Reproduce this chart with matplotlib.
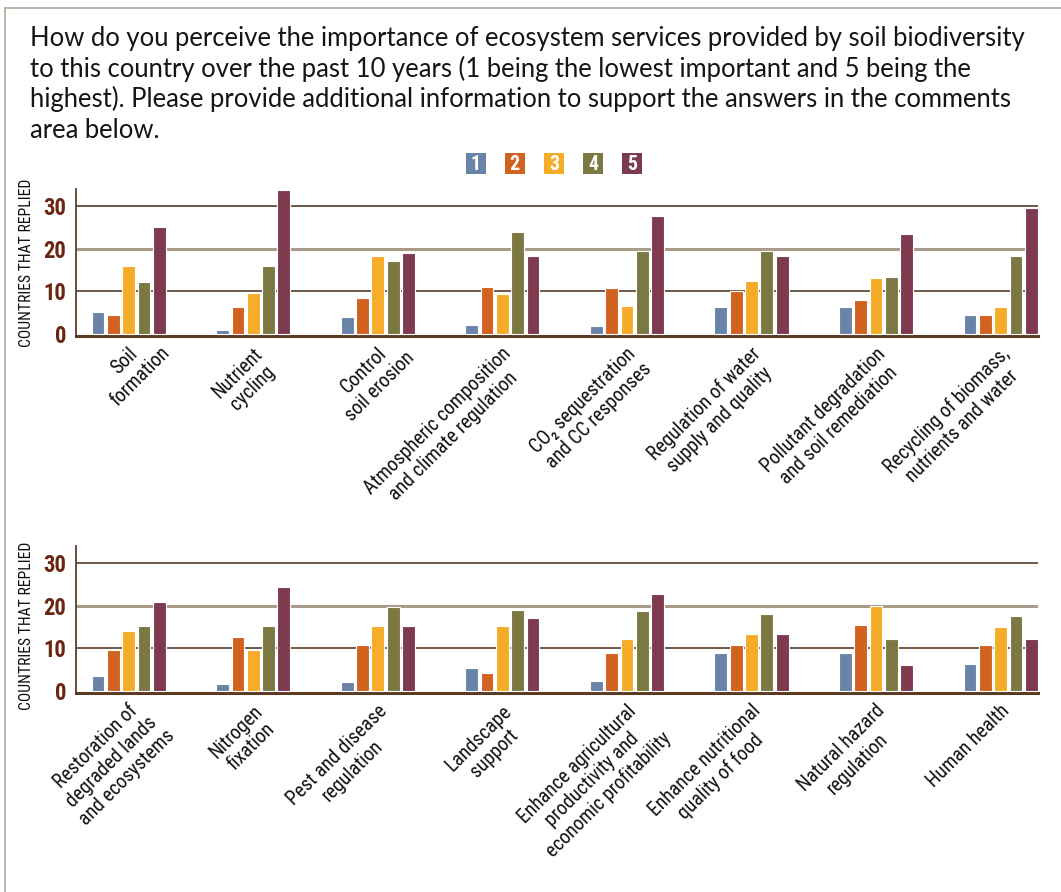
import os
import matplotlib
matplotlib.use("Agg")
import matplotlib.pyplot as plt
import matplotlib.transforms as mtransforms
from matplotlib import font_manager
from matplotlib.font_manager import FontProperties
from matplotlib.patches import Rectangle
from matplotlib.lines import Line2D
import numpy as np

# ---- data ----
title_lines = [
    "How do you perceive the importance of ecosystem services provided by soil biodiversity",
    "to this country over the past 10 years (1 being the lowest important and 5 being the",
    "highest). Please provide additional information to support the answers in the comments",
    "area below.",
]
levels = ["1", "2", "3", "4", "5"]
level_colors = ["#6a84a9", "#d1621f", "#f5ad29", "#7c7841", "#7e3a4e"]

top_categories = [
    "Soil\nformation",
    "Nutrient\ncycling",
    "Control\nsoil erosion",
    "Atmospheric composition\nand climate regulation",
    "CO\u2082 sequestration\nand CC responses",
    "Regulation of water\nsupply and quality",
    "Pollutant degradation\nand soil remediation",
    "Recycling of biomass,\nnutrients and water",
]
# rows = categories, columns = levels 1..5
top_values = np.array([
    [5.2, 4.5, 15.9, 12.1, 25.1],
    [0.9, 6.4, 9.6, 15.9, 33.9],
    [4.0, 8.4, 18.4, 17.2, 18.9],
    [2.1, 11.1, 9.4, 23.9, 18.4],
    [1.7, 10.7, 6.5, 19.5, 27.8],
    [6.4, 10.0, 12.3, 19.4, 18.4],
    [6.4, 7.9, 13.1, 13.3, 23.5],
    [4.4, 4.4, 6.2, 18.4, 29.6],
])

bottom_categories = [
    "Restoration of\ndegraded lands\nand ecosystems",
    "Nitrogen\nfixation",
    "Pest and disease\nregulation",
    "Landscape\nsupport",
    "Enhance agricultural\nproductivity and\neconomic profitability",
    "Enhance nutritional\nquality of food",
    "Natural hazard\nregulation",
    "Human health",
]
bottom_values = np.array([
    [3.4, 9.6, 14.0, 15.2, 20.8],
    [1.6, 12.7, 9.6, 15.2, 24.5],
    [2.0, 10.9, 15.2, 19.6, 15.2],
    [5.4, 4.2, 15.2, 18.9, 17.1],
    [2.3, 8.8, 12.1, 18.75, 22.8],
    [8.9, 10.7, 13.4, 18.0, 13.4],
    [8.9, 15.4, 19.9, 12.1, 6.0],
    [6.25, 10.7, 14.9, 17.7, 12.1],
])

y_ticks = [0, 10, 20, 30]
y_label = "COUNTRIES THAT REPLIED"


def pick(*names):
    have = {f.name for f in font_manager.fontManager.ttflist}
    for n in names:
        if n in have:
            return n
    return "DejaVu Sans"


def condensed_file(candidates):
    files = {os.path.basename(f.fname).lower(): f.fname for f in font_manager.fontManager.ttflist}
    for c in candidates:
        if c.lower() in files:
            return files[c.lower()]
    return None


reg_file = condensed_file(["NotoSans-SemiCondensed.ttf", "NotoSans-Condensed.ttf",
                           "RobotoCondensed-Regular.ttf", "LiberationSansNarrow-Regular.ttf",
                           "DejaVuSansCondensed.ttf"])
bold_file = condensed_file(["NotoSans-SemiCondensedBold.ttf", "NotoSans-CondensedBold.ttf",
                            "RobotoCondensed-Bold.ttf", "LiberationSansNarrow-Bold.ttf",
                            "DejaVuSansCondensed-Bold.ttf"])
cond = FontProperties(fname=reg_file) if reg_file else FontProperties(family=[pick("Liberation Sans"), "DejaVu Sans"])
cond_bold = FontProperties(fname=bold_file) if bold_file else FontProperties(family=[pick("Liberation Sans"), "DejaVu Sans"], weight="bold")
title_fp = FontProperties(family=[pick("Lato", "Roboto", "DejaVu Sans"), "DejaVu Sans"])

W, H = 1061, 892
fig = plt.figure(figsize=(W / 100, H / 100), dpi=100)
renderer = fig.canvas.get_renderer()


def sized(fp, size):
    p = fp.copy()
    p.set_size(size)
    return p


def text_w(text, fp, size):
    t = fig.text(0, 0, text, fontproperties=sized(fp, size))
    w = t.get_window_extent(renderer).width
    t.remove()
    return w


def fit(text, fp, target_px):
    # font size that makes `text` target_px wide
    return 10 * target_px / text_w(text, fp, 10)


# frame lines of the box
fig.add_artist(Line2D([5 / W, 5 / W], [0, 1 - 8 / H], color="#b9aea3", lw=1.3))
fig.add_artist(Line2D([5 / W, 1], [1 - 8 / H, 1 - 8 / H], color="#b9aea3", lw=1.3))

# title
title_size = fit(title_lines[0], title_fp, 995)
for i, line in enumerate(title_lines):
    fig.text(30 / W, 1 - (45.7 + 30.8 * i) / H, line, va="baseline",
             fontproperties=sized(title_fp, title_size), color="#151515")

# legend boxes
legend_size = fit("5", cond_bold, 10)
for k, (lab, col) in enumerate(zip(levels, level_colors)):
    cx = 475.6 + 39.2 * k
    fig.add_artist(Rectangle(((cx - 10) / W, 1 - 174 / H), 20 / W, 21 / H,
                             transform=fig.transFigure, fc=col, ec="none"))
    fig.text(cx / W, 1 - 164.5 / H, lab, color="white", ha="center", va="center",
             fontproperties=sized(cond_bold, legend_size))

label_size = fit("Atmospheric composition", cond, 198)
ylab_size = fit(y_label, cond, 168)
tick_size = fit("30", cond_bold, 23)

bar_w = 0.103
pitch = 0.123
cs = np.cos(np.pi / 4)


def panel(ax, cats, vals, ylab_y):
    x = np.arange(len(cats))
    for k in range(len(levels)):
        ax.bar(x + (k - 2) * pitch, vals[:, k], width=bar_w, color=level_colors[k],
               edgecolor="white", linewidth=0.8, zorder=3)
    ax.set_xlim(-0.423, 7.30)
    ax.set_ylim(-0.47, 34.0)
    for t in (10, 20, 30):
        if t == 20:
            ax.axhline(t, color="#a99a8a", lw=2.2, zorder=1)
        else:
            ax.axhline(t, color="#6f5848", lw=1.4, zorder=1)
    for s in ("top", "right"):
        ax.spines[s].set_visible(False)
    ax.spines["left"].set_color("#5c4130")
    ax.spines["left"].set_linewidth(1.3)
    ax.spines["bottom"].set_color("#5a3a22")
    ax.spines["bottom"].set_linewidth(2.2)
    ax.set_yticks(y_ticks)
    ax.set_yticklabels([str(t) for t in y_ticks], fontproperties=sized(cond_bold, tick_size),
                       color="#6b2612")
    ax.tick_params(axis="y", length=0, pad=7)
    ax.set_xticks([])

    # rotated category labels: end of first line sits just below the group
    base = mtransforms.blended_transform_factory(ax.transData, ax.transAxes)
    ex, ey = 6, -15      # px offset of first line's end from group centre / axis
    lh = 22              # px between lines
    fp = sized(cond, label_size)
    for i, c in enumerate(cats):
        lines = c.split("\n")
        l1 = text_w(lines[0], cond, label_size)
        for j, line in enumerate(lines):
            px = ex - l1 / 2 * cs + j * lh * cs
            py = ey - l1 / 2 * cs - j * lh * cs
            tr = base + mtransforms.ScaledTranslation(px / 100, py / 100, fig.dpi_scale_trans)
            ax.text(i, 0, line, transform=tr, rotation=45, rotation_mode="anchor",
                    ha="center", va="center", fontproperties=fp, color="#111111")
    fig.text(27 / W, ylab_y, y_label, rotation=90, ha="center", va="center",
             fontproperties=sized(cond, ylab_size), color="#111111")


ax_top = fig.add_axes([76 / W, 1 - 335.7 / H, 962 / W, 146.4 / H])
panel(ax_top, top_categories, top_values, 1 - 263 / H)
ax_bot = fig.add_axes([76 / W, 1 - 693 / H, 962 / W, 147 / H])
panel(ax_bot, bottom_categories, bottom_values, 1 - 626 / H)

fig.savefig("out.png", dpi=100)
